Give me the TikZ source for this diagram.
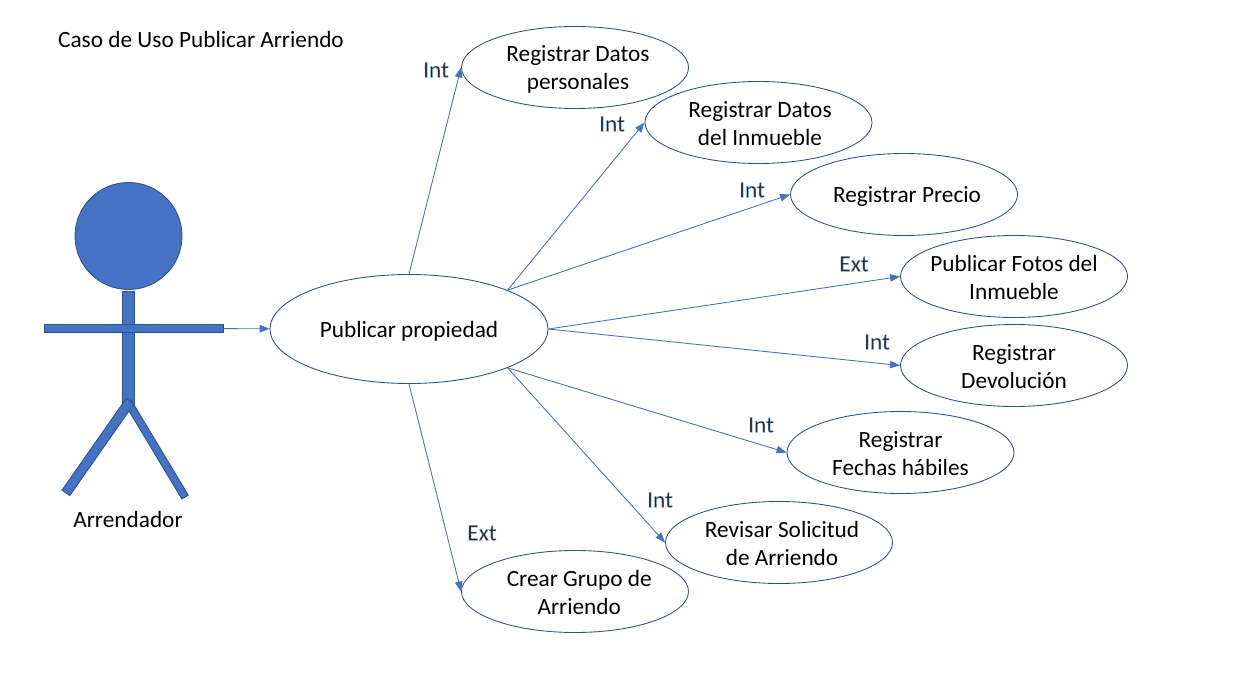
\documentclass[tikz,border=0pt]{standalone}
\usepackage{fontspec}
\setmainfont{Carlito}
\newfontfamily\tagfont[FakeBold=1.4]{Carlito}
\usepackage{tikz}
\usetikzlibrary{shapes.geometric,arrows.meta}
\definecolor{fillblue}{HTML}{4472C4}
\definecolor{edgeblue}{HTML}{2F528F}
\newcommand{\nudge}[1][0.12cm]{\hspace*{#1}}
\tikzset{
  usecase/.style={draw=edgeblue, line width=0.5pt, ellipse, minimum width=4.54cm, minimum height=1.64cm,
    inner ysep=0pt, inner xsep=-0.4cm, align=center, text=black, text height=0.94cm, font=\fontsize{13.25}{15.9}\selectfont},
  oneline/.style={text height=0.42cm},
  part/.style={draw=edgeblue, line width=0.5pt, fill=fillblue, rectangle, inner sep=0pt},
  link/.style={draw=fillblue, line width=0.5pt, -{Triangle[length=0.2cm,width=0.15cm]}},
  tag/.style={inner sep=0pt, font=\tagfont\fontsize{13.25}{15}\selectfont,
    execute at begin node={\special{pdf:bcolor [0.15 0.15 0.15] [0.55 0.72 0.90]}},
    execute at end node={\special{pdf:ecolor}}},
  plain/.style={inner sep=0pt, font=\fontsize{13.25}{15}\selectfont}
}
\begin{document}
\begin{tikzpicture}
      \useasboundingbox (0,0) rectangle (24.66,-13.66);

      \node[plain]  (T)  at (4.02, -0.80) {Caso de Uso Publicar Arriendo};

      \node[part, minimum width=0.24cm, minimum height=2.3cm] (B) at (2.56, -6.97) {};
      \node[part, rotate=-59, minimum width=2.22cm, minimum height=0.15cm] (L2) at (3.13, -8.99) {};
      \node[part, rotate=55,  minimum width=2.24cm, minimum height=0.19cm] (L1) at (1.96, -8.94) {};
      \node[part, minimum width=3.58cm, minimum height=0.15cm] (A) at (2.67, -6.57) {};
      \node[part, circle, minimum size=2.14cm] (H) at (2.57, -4.72) {};
      \node[plain] (N) at (2.56, -10.38) {Arrendador};

      \node[usecase, oneline, minimum width=5.56cm, minimum height=2.18cm] (P) at (8.18, -6.58) {Publicar propiedad};

      \node[usecase] (U1) at (11.50, -1.35) {\nudge Registrar Datos\\\nudge personales};
      \node[usecase] (U2) at (15.17, -2.45) {\nudge[0.06cm]Registrar Datos\\\nudge[0.06cm]del Inmueble};
      \node[usecase, oneline] (U3) at (18.08, -3.89) {\nudge Registrar Precio};
      \node[usecase] (U4) at (20.28, -5.53) {Publicar Fotos del\\Inmueble};
      \node[usecase] (U5) at (20.28, -7.31) {Registrar\\Devolución};
      \node[usecase] (U6) at (18.01, -9.05) {Registrar\\Fechas hábiles};
      \node[usecase] (U7) at (15.58, -10.85) {\nudge Revisar Solicitud\\\nudge de Arriendo};
      \node[usecase] (U8) at (11.50, -11.83) {\nudge[0.17cm]Crear Grupo de\\\nudge[0.17cm]Arriendo};

      \draw[link] (A) -- (P);
      \draw[link] (P.north) -- (U1.west);
      \draw[link] (P.north east) -- (U2.west);
      \draw[link] (P.north east) -- (U3.west);
      \draw[link] (P.east) -- (U4.west);
      \draw[link] (P.east) -- (U5.west);
      \draw[link] (P.south east) -- (U6.west);
      \draw[link] (P.south east) -- (U7.west);
      \draw[link] (P.south) -- (U8.west);

      \node[tag] (I1) at (8.72,  -1.40) {Int};
      \node[tag] (I2) at (12.24, -2.48) {Int};
      \node[tag] (I3) at (15.04, -3.80) {Int};
      \node[tag] (E4) at (17.08, -5.28) {Ext};
      \node[tag] (I5) at (17.54, -6.84) {Int};
      \node[tag] (I6) at (15.22, -8.50) {Int};
      \node[tag] (I7) at (13.20, -10.00) {Int};
      \node[tag] (E8) at (9.64,  -10.66) {Ext};
    \end{tikzpicture}
\end{document}
